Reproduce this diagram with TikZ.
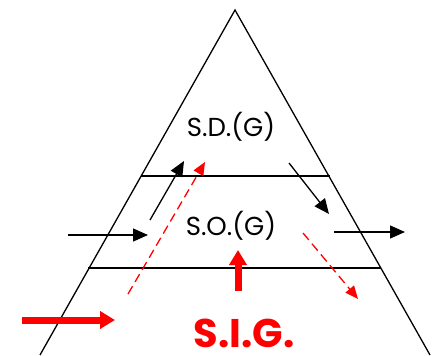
\documentclass[tikz,border=0pt]{standalone}
\usepackage{fontspec}
\setmainfont{Poppins}
\usetikzlibrary{arrows.meta,positioning}

\begin{document}
\begin{tikzpicture}[x=1pt,y=-1pt,
  lvl/.style={font=\fontsize{26}{28}\selectfont,inner sep=0pt},
  flow/.style={-{Triangle[length=15pt,width=13pt]},line width=1.3pt},
  sigflow/.style={-{Triangle[length=13pt,width=11pt]},red,line width=1.3pt,dash pattern=on 9pt off 5pt},
  bigflow/.style={-{Triangle[length=15pt,width=17pt]},red,line width=7pt}]
  \useasboundingbox (0,0) rectangle (435,355);
  % Pyramid and level lines
  \draw[line width=1.3pt] (40,355) -- (235,10) -- (430,355);
  \draw[line width=1.3pt] (141,176) -- (330,176);
  \draw[line width=1.3pt] (88,268) -- (381,268);
  % Levels
  \node[lvl] (sdg) at (231,127) {S.D.(G)};
  \node[lvl] (sog) at (231,226) {S.O.(G)};
  \node[font=\fontsize{40}{44}\selectfont\bfseries,red,inner sep=0pt,anchor=base] (sig) at (244,347) {S.I.G.};
  % Arrow ends
  \coordinate (inA) at (68,235);   \coordinate (inB) at (148,235);
  \coordinate (upA) at (150,220);  \coordinate (upB) at (184,161);
  \coordinate (dnA) at (289,163);  \coordinate (dnB) at (329,214);
  \coordinate (outA) at (334,232); \coordinate (outB) at (405,232);
  \coordinate (rdA) at (128,294);  \coordinate (rdB) at (205,162);
  \coordinate (rsA) at (303,233);  \coordinate (rsB) at (358,299);
  \coordinate (bgA) at (22,320);   \coordinate (bgB) at (115,320);
  \coordinate (bsA) at (238,291);  \coordinate (bsB) at (238,250);
  % Black flows
  \draw[flow] (inA) -- (inB);
  \draw[flow] (upA) -- (upB);
  \draw[flow] (dnA) -- (dnB);
  \draw[flow] (outA) -- (outB);
  % Information flows
  \draw[sigflow] (rdA) -- (rdB);
  \draw[sigflow] (rsA) -- (rsB);
  \draw[bigflow] (bgA) -- (bgB);
  \draw[bigflow] (bsA) -- (bsB);
\end{tikzpicture}
\end{document}
